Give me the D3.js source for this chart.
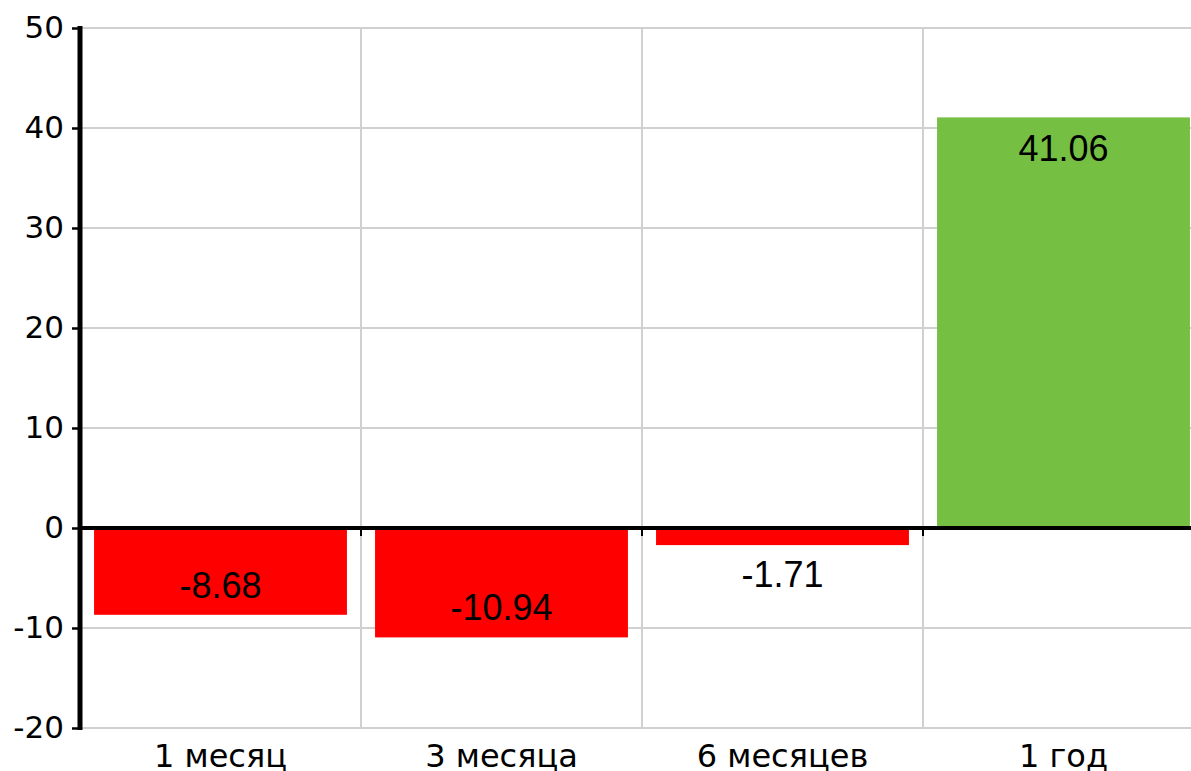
<!DOCTYPE html>
<html>
<head>
<meta charset="utf-8">
<script src="https://cdn.jsdelivr.net/npm/d3@7"></script>
<style>
	body { margin: 0; background: #fff; }
	svg { display: block; overflow: hidden; }
</style>
</head>
<body>
<div id="chart"></div>
<script>
var categories = ['1 месяц', '3 месяца', '6 месяцев', '1 год'];
var values = [-8.68, -10.94, -1.71, 41.06];
var y_ticks = [-20, -10, 0, 10, 20, 30, 40, 50];

var width = 1191, height = 771;
var plot = { left: 80, right: 1204, top: 28, bottom: 728 };

var svg = d3.select('#chart')
	.append('svg')
	.attr('width', width)
	.attr('height', height);

var x = d3.scaleBand()
	.domain(categories)
	.range([plot.left, plot.right])
	.paddingInner(0.1)
	.paddingOuter(0.05);

// band edges for grid, without padding
var x_edges = d3.scaleBand()
	.domain(categories)
	.range([plot.left, plot.right]);

var y = d3.scaleLinear()
	.domain([-20, 50])
	.range([plot.bottom, plot.top]);

//horizontal grid
svg.append('g')
	.selectAll('line')
	.data(y_ticks)
	.enter()
	.append('line')
	.attr('x1', plot.left)
	.attr('x2', width)
	.attr('y1', function(d){ return y(d); })
	.attr('y2', function(d){ return y(d); })
	.style('stroke', '#d0d0d0')
	.style('stroke-width', 2);

//vertical grid at band boundaries
svg.append('g')
	.selectAll('line')
	.data(categories.slice(1))
	.enter()
	.append('line')
	.attr('x1', function(d){ return x_edges(d); })
	.attr('x2', function(d){ return x_edges(d); })
	.attr('y1', plot.top)
	.attr('y2', plot.bottom)
	.style('stroke', '#d0d0d0')
	.style('stroke-width', 2);

//bars
svg.append('g')
	.selectAll('rect')
	.data(values)
	.enter()
	.append('rect')
	.attr('x', function(d, i){ return x(categories[i]); })
	.attr('width', x.bandwidth())
	.attr('y', function(d){ return y(Math.max(0, d)); })
	.attr('height', function(d){ return Math.abs(y(d) - y(0)); })
	.style('fill', function(d){ return d < 0 ? '#ff0000' : '#75bf43'; });

//value labels
svg.append('g')
	.selectAll('text')
	.data(values)
	.enter()
	.append('text')
	.attr('x', function(d, i){ return x(categories[i]) + x.bandwidth() / 2; })
	.attr('y', function(d){
		if (d >= 0) return y(d) + 44;
		var bar_end = y(d);
		if (bar_end - y(0) > 60) return bar_end - 17;
		return bar_end + 42;
	})
	.attr('text-anchor', 'middle')
	.style('font-family', '"Liberation Sans", Arial, sans-serif')
	.style('font-size', '36px')
	.style('fill', '#000')
	.text(function(d){ return d.toFixed(2); });

//zero line with ticks at band boundaries
svg.append('line')
	.attr('x1', plot.left)
	.attr('x2', width)
	.attr('y1', y(0))
	.attr('y2', y(0))
	.style('stroke', '#000')
	.style('stroke-width', 4);

svg.append('g')
	.selectAll('line')
	.data(categories.slice(1))
	.enter()
	.append('line')
	.attr('x1', function(d){ return x_edges(d); })
	.attr('x2', function(d){ return x_edges(d); })
	.attr('y1', y(0))
	.attr('y2', y(0) + 8)
	.style('stroke', '#000')
	.style('stroke-width', 2);

//category labels
svg.append('g')
	.selectAll('text')
	.data(categories)
	.enter()
	.append('text')
	.attr('x', function(d){ return x_edges(d) + x_edges.bandwidth() / 2; })
	.attr('y', 767)
	.attr('text-anchor', 'middle')
	.style('font-family', '"DejaVu Sans", sans-serif')
	.style('font-size', '32px')
	.style('fill', '#000')
	.text(function(d){ return d; });

//y axis
var y_axis = d3.axisLeft(y)
	.tickValues(y_ticks)
	.tickFormat(function(d){ return String(d); })
	.tickSize(8)
	.tickPadding(8)
	.tickSizeOuter(0);

var y_g = svg.append('g')
	.attr('transform', 'translate(' + plot.left + ',0)')
	.call(y_axis);

y_g.select('.domain')
	.attr('d', 'M0,' + (plot.top - 2) + 'V' + (plot.bottom + 2))
	.style('stroke', '#000')
	.style('stroke-width', 5);
y_g.selectAll('.tick line')
	.style('stroke', '#000')
	.style('stroke-width', 2.5);
y_g.selectAll('.tick text')
	.style('font-family', '"DejaVu Sans", sans-serif')
	.style('font-size', '31px')
	.style('fill', '#000');
</script>
</body>
</html>
